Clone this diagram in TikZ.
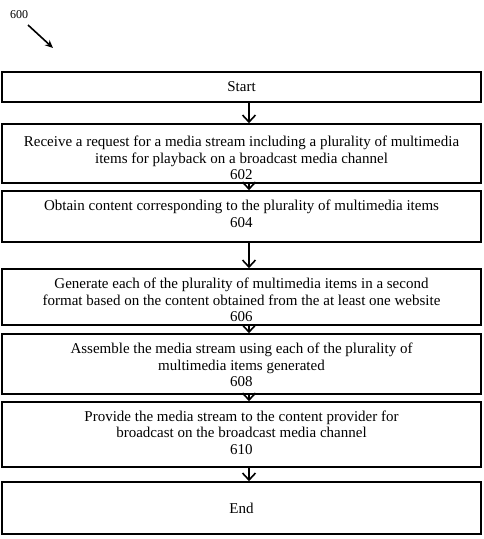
\documentclass[tikz,border=0pt]{standalone}
\usepackage{fontspec}
\setmainfont{Liberation Serif}
\usetikzlibrary{arrows.meta}
\begin{document}
\begin{tikzpicture}[x=1pt,y=-1pt,
  stepbox/.style={draw,line width=1.6pt,minimum width=479pt,inner sep=0pt},
  steptext/.style={align=center,inner sep=0pt,font=\fontsize{15}{16.7}\selectfont},
  flow/.style={line width=1.6pt,-{Straight Barb[length=7pt,width=13pt,line width=1.6pt]}},
  lbl/.style={font=\fontsize{12}{14}\selectfont}]
\useasboundingbox (0,0) rectangle (483,539);
\node[stepbox,minimum height=30pt] (s) at (241.5,87) {};
\node[steptext] (st) at (s) {Start};
\node[stepbox,minimum height=59pt] (a) at (241.5,153.5) {};
\node[steptext] (at) at (241.5,158) {Receive a request for a media stream including a plurality of multimedia\\items for playback on a broadcast media channel\\602};
\node[stepbox,minimum height=51pt] (b) at (241.5,216.5) {};
\node[steptext] (bt) at (241.5,214) {Obtain content corresponding to the plurality of multimedia items\\604};
\node[stepbox,minimum height=56pt] (c) at (241.5,297) {};
\node[steptext] (ct) at (241.5,300) {Generate each of the plurality of multimedia items in a second\\format based on the content obtained from the at least one website\\606};
\node[stepbox,minimum height=60pt] (d) at (241.5,364) {};
\node[steptext] (dt) at (241.5,365) {Assemble the media stream using each of the plurality of\\multimedia items generated\\608};
\node[stepbox,minimum height=65pt] (e) at (241.5,434.5) {};
\node[steptext] (et) at (241.5,432.5) {Provide the media stream to the content provider for\\broadcast on the broadcast media channel\\610};
\node[stepbox,minimum height=52pt] (f) at (241.5,508) {};
\node[steptext] (ft) at (f) {End};
\foreach \u/\v in {s/a,a/b,b/c,c/d,d/e,e/f}{
  \draw[flow] (\u.south -| 249,0) -- (\v.north -| 249,0);
}
\node[lbl] (n600) at (19,15) {600};
\coordinate (t600) at (53,48);
\draw[line width=1.6pt,-{Stealth[length=8pt,width=7pt]}] (28,25) -- (t600);
\end{tikzpicture}
\end{document}
